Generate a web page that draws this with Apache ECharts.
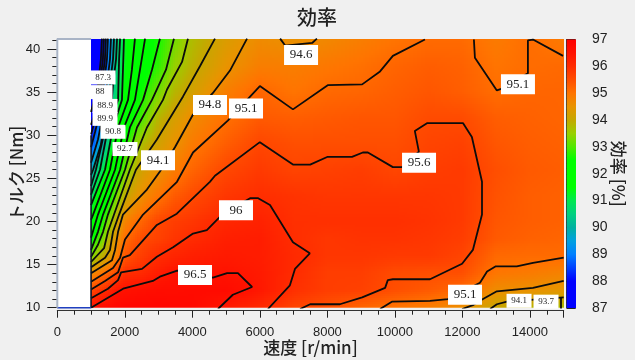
<!DOCTYPE html>
<html><head><meta charset="utf-8">
<style>html,body{margin:0;padding:0;background:#fff}#c{width:635px;height:360px}</style>
<script src="https://cdn.jsdelivr.net/npm/echarts@6/dist/echarts.min.js"></script>
</head><body><div id="c"></div>
<script>
const speeds=[1000,1250,1500,1750,2000,2500,3000,3500,4000,5000,6000,7000,8000,9000,10000,11000,12000,13000,14000,15000];
const torques=[41.16,38,35,32,29,26,23,20,18,16,14,12,10];
const eff41=[87,87,88.9,90.3,91.35,92.1,92.65,93.25,93.75,94.3,94.65,94.55,94.7,94.85,95,95.12,95.13,94.9,95.1,94.9];
const eff38=[87,87.2,89.07,90.45,91.4,92.2,92.8,93.5,93.9,94.5,94.85,94.85,94.95,95.05,95.2,95.3,95.25,95,95.1,95.15];
const eff35=[87,87.85,89.65,90.7,91.6,92.6,93.25,93.85,94.2,94.85,95.2,95,95.15,95.2,95.3,95.4,95.3,95.1,95.2,95.2];
const eff32=[87.55,88.85,90.1,91.25,91.95,92.95,93.85,94.25,94.65,95.05,95.35,95.3,95.35,95.4,95.4,95.55,95.55,95.3,95.25,95.2];
const eff29=[88.45,89.45,90.65,91.85,92.6,93.75,94.2,94.55,94.9,95.3,95.62,95.5,95.5,95.5,95.5,95.65,95.7,95.4,95.3,95.25];
const eff26=[89.75,90.75,91.6,92.35,93.2,94.2,94.55,94.9,95.2,95.6,95.8,95.65,95.7,95.75,95.62,95.75,95.8,95.5,95.35,95.3];
const eff23=[90.75,91.7,92.3,93.2,94,94.6,95,95.35,95.55,95.85,95.98,95.9,95.85,95.85,95.85,95.85,95.8,95.45,95.3,95.25];
const eff20=[91.75,92.4,93.25,94,94.75,95.2,95.6,95.75,95.85,96.1,96.2,95.95,95.95,95.95,95.95,95.9,95.8,95.4,95.3,95.25];
const eff18=[92.4,93,93.8,94.5,95.1,95.55,95.7,95.88,96.02,96.25,96.3,95.98,95.85,95.9,95.9,95.85,95.75,95.35,95.25,95.2];
const eff16=[93.2,93.8,94.2,94.75,95.4,95.75,96,96.15,96.25,96.35,96.3,96.05,95.85,95.85,95.8,95.8,95.65,95.15,95.12,95.12];
const eff14=[94.6,94.9,95.2,95.55,95.98,96.05,96.3,96.5,96.45,96.5,96.35,96.02,95.75,95.75,95.55,95.5,95.5,94.97,94.9,94.78];
const eff12=[95.55,95.85,96.1,96.45,96.52,96.6,96.65,96.65,96.7,96.7,96.4,95.95,95.75,95.7,95.5,95.35,95.12,94.62,94.55,94.45];
const eff10=[96.5,96.7,96.75,96.8,96.85,96.85,96.85,96.8,96.75,96.35,96.05,95.65,95.45,95.2,95,94.85,94.58,94.05,93.85,93.7];
const effRows=[eff41,eff38,eff35,eff32,eff29,eff26,eff23,eff20,eff18,eff16,eff14,eff12,eff10];

const scaleLevels=[87,88,88.5,89,89.5,90,90.5,91,91.5,92.5,93,93.5,94,94.5,95,95.5,96,96.5,97];
const scaleColors=['#0000ff','#0000ff','#0040ff','#0080ff','#00a0e0','#00b0a0','#00d080','#00e850','#00ff00','#00ff00','#50e800','#98d000','#c4a800','#e89400','#ff7400','#ff4e00','#ff2c00','#ff1200','#ff0000'];

const c873=[[1320,41.2],[1290,38.8],[1210,35.9],[1000,32.7]];
const c878=[[1380,41.2],[1350,38.8],[1265,35.9],[1120,32.7],[1000,31.2]];
const c883=[[1440,41.2],[1410,38.8],[1320,35.9],[1180,32.7],[1000,30.1]];
const c889=[[1500,41.2],[1470,38.8],[1380,35.9],[1265,32.7],[1120,30.4],[1000,28.6]];
const c894=[[1590,41.2],[1560,38.8],[1470,35.9],[1350,32.4],[1205,29.5],[1000,26.8]];
const c899=[[1680,41.2],[1650,38.8],[1560,35.9],[1440,32.4],[1290,28.9],[1060,26],[1000,25.4]];
const c904=[[1770,41.2],[1740,38.8],[1650,35.9],[1590,33],[1380,30.1],[1145,26],[1000,24.1]];
const c908=[[1860,41.2],[1830,38.8],[1800,34.1],[1500,30.9],[1265,26],[1000,23.1]];
const c913=[[1975,41.2],[1945,37.6],[1915,34.1],[1650,30.9],[1413,26],[1000,21.9]];
const c918=[[2300,41.2],[2210,37.6],[2095,34.1],[1800,30.9],[1560,26],[1060,20.8],[1000,20.2]];
const c922=[[2600,41.2],[2450,37.6],[2300,34.1],[1975,30.9],[1710,26],[1205,20.8],[1000,18.1]];
const c927=[[3040,41.2],[2805,37.6],[2540,34.1],[2150,30.9],[1860,26],[1355,20.8],[1205,18.8],[1000,16.7]];
const c932=[[3455,41.2],[3220,37.6],[2805,34.1],[2360,30.9],[2005,26],[1500,20.8],[1355,18.8],[1205,17.3],[1000,15.9]];
const c937=[[3870,41.2],[3695,38.5],[3250,35.3],[3130,34.1],[2655,30.9],[2150,26],[1680,20.8],[1500,18.8],[1385,16.9],[1000,15.3]];
const c941=[[4670,41.2],[4225,38],[3725,34.5],[2950,29.5],[2330,26],[1830,20.8],[1650,18.8],[1560,16.7],[1415,15.8],[1000,14.7]];
const c946=[[5620,41.2],[5115,37.5],[4610,34.9],[4020,32.4],[3485,28.6],[3040,25.8],[2655,23.7],[1945,20.8],[1800,18.8],[1710,16.7],[1620,15.5],[1000,14]];
const c951=[[1000,13],[1650,14.6],[1860,15.8],[2005,17.9],[2540,20.8],[3545,24.6],[4020,28],[5050,31.7],[6000,35.7],[6980,33],[8010,35.8],[9030,35.9],[9560,37.4],[9940,39.2],[10890,41.1]];
const c956=[[1000,12.1],[1415,13.1],[1800,14.1],[1945,15.8],[2150,16.1],[2950,19.6],[3540,20.9],[4520,24.6],[4670,25.3],[6000,29.2],[6980,26.6],[7490,26.6],[8010,27.5],[8730,27.5],[9050,28],[9200,28],[9940,26.3],[10210,26.3],[10710,28.1],[10590,30.5],[10950,31.4],[12020,31.4],[12280,29.8],[12580,24.6],[12580,20.8],[12310,16.7],[11990,15.1],[11040,13.3],[9940,13.3],[9790,13.2],[9710,12.3],[9030,11.2],[8370,10.4],[7490,10.4],[7190,9.85]];
const c960=[[1000,11.1],[1500,12.2],[1800,13.2],[1890,14.1],[2510,14.5],[2950,15.9],[3430,17],[4020,18.6],[4430,19],[4910,20.9],[5710,22.7],[5950,22.7],[6300,21.9],[6980,17.6],[7480,16.3],[7040,14.5],[6890,12.6],[6240,9.85]];
const c965=[[1000,10],[1950,12.2],[2830,13.1],[3040,13.6],[3550,14.3],[4610,13.5],[5030,14],[5350,14],[5770,12.4],[5200,11.5],[4760,9.85]];
const c946top=[[6600,41.2],[6750,40.4],[7550,40.7],[7690,41.2]];
const c951right=[[12340,41.1],[12370,39],[13020,35.2],[13170,35.4],[13940,37.2],[13940,41],[14090,41.1],[14980,39.2]];
const c951low=[[9560,9.85],[9910,10.7],[11040,10.8],[11570,11],[12520,12.9],[12730,14.2],[12990,14.8],[13610,14.8],[14090,15.2],[15000,15.8]];
const c946low=[[15000,13.1],[14090,12.3],[13020,11.9],[12610,11],[12310,10.3],[11990,9.85]];
const c941low=[[12820,9.85],[13020,10.4],[13320,10.7],[15000,11.2]];
const c937low=[[14920,11.2],[14920,9.85]];
const contours=[c873,c878,c883,c889,c894,c899,c904,c908,c913,c918,c922,c927,c932,c937,c941,c946,c951,c956,c960,c965,c946top,c951right,c951low,c946low,c941low,c937low];
const edgeLine=[[1000,10],[1000,30]];
const baseLine=[[0,10],[1000,10]];
const frameLine=[[0,10],[0,41.16],[1000,41.16]];

const smallText=['87.3','88','88.9','89.9','90.8','92.7','94.1','93.7'];
const smallSpeed=[1354,1265,1413,1413,1650,2005,13677,14476];
const smallTorque=[36.7,35,33.4,31.9,30.4,28.4,10.8,10.7];
const largeText=['94.1','94.8','95.1','94.6','95.6','95.1','96','96.5','95.1'];
const largeSpeed=[2983,4523,5590,7220,10715,13645,5293,4079,12077];
const largeTorque=[27.1,33.5,33.1,39.3,26.8,35.9,21.3,13.8,11.5];

const xTicks=[0,2000,4000,6000,8000,10000,12000,14000];
const yTicks=[10,15,20,25,30,35,40];
const scaleTicks=[87,88,89,90,91,92,93,94,95,96,97];

function hex(c){return [parseInt(c.slice(1,3),16),parseInt(c.slice(3,5),16),parseInt(c.slice(5,7),16)];}
const rgb=scaleColors.map(hex);
function colorOf(v){
  if(v<=scaleLevels[0])return scaleColors[0];
  for(let i=1;i<scaleLevels.length;i++){
    if(v<=scaleLevels[i]){
      const f=(v-scaleLevels[i-1])/(scaleLevels[i]-scaleLevels[i-1]);
      const a=rgb[i-1],b=rgb[i];
      return 'rgb('+Math.round(a[0]+(b[0]-a[0])*f)+','+Math.round(a[1]+(b[1]-a[1])*f)+','+Math.round(a[2]+(b[2]-a[2])*f)+')';
    }
  }
  return scaleColors[scaleColors.length-1];
}
const cells=[];
for(let r=0;r<torques.length-1;r++)for(let s=0;s<speeds.length-1;s++)cells.push([s,r]);
function renderCell(params,api){
  const s=api.value(0),r=api.value(1);
  const p0=api.coord([speeds[s],torques[r]]),p1=api.coord([speeds[s+1],torques[r+1]]);
  const v00=effRows[r][s],v10=effRows[r][s+1],v01=effRows[r+1][s],v11=effRows[r+1][s+1];
  const w=p1[0]-p0[0],h=p1[1]-p0[1];
  const nx=Math.max(1,Math.round(w/2)),ny=Math.max(1,Math.round(h/2));
  const kids=[];
  for(let i=0;i<nx;i++)for(let j=0;j<ny;j++){
    const fx=(i+.5)/nx,fy=(j+.5)/ny;
    const v=(v00*(1-fx)+v10*fx)*(1-fy)+(v01*(1-fx)+v11*fx)*fy;
    const x0=Math.round(p0[0]+w*i/nx),x1=Math.round(p0[0]+w*(i+1)/nx);
    const y0=Math.round(p0[1]+h*j/ny),y1=Math.round(p0[1]+h*(j+1)/ny);
    kids.push({type:'rect',shape:{x:x0,y:y0,width:x1-x0,height:y1-y0},style:{fill:colorOf(v)}});
  }
  return {type:'group',children:kids};
}
function renderScale(params,api){
  const a=api.coord([0,97]),b=api.coord([1,87]);
  const stops=scaleLevels.map((l,i)=>({offset:(97-l)/10,color:scaleColors[i]})).reverse();
  return {type:'rect',shape:{x:a[0],y:a[1],width:b[0]-a[0],height:b[1]-a[1]},
    style:{fill:new echarts.graphic.LinearGradient(0,0,0,1,stops)}};
}
const txt='#222';
const sans='"Liberation Sans",Arial,sans-serif';
const cjk='"Noto Sans CJK JP","Liberation Sans",sans-serif';
const series=[
 {type:'custom',name:'field',xAxisIndex:0,yAxisIndex:0,data:cells,renderItem:renderCell,silent:true,z:1,encode:{x:0,y:1},clip:true},
 {type:'custom',name:'scale',xAxisIndex:1,yAxisIndex:1,data:[[0]],renderItem:renderScale,silent:true,z:1}
];
contours.forEach(c=>series.push({type:'line',xAxisIndex:0,yAxisIndex:0,data:c,showSymbol:false,silent:true,z:3,clip:true,lineStyle:{color:'#0c0c0c',width:1.8},animation:false}));
series.push({type:'line',xAxisIndex:0,yAxisIndex:0,data:edgeLine,showSymbol:false,z:3,lineStyle:{color:'#101828',width:1.6}});
series.push({type:'line',xAxisIndex:0,yAxisIndex:0,data:baseLine,showSymbol:false,z:3,clip:false,lineStyle:{color:'#2040c0',width:1.5}});
series.push({type:'line',xAxisIndex:0,yAxisIndex:0,data:frameLine,showSymbol:false,z:3,clip:false,lineStyle:{color:'#a9b4c6',width:2}});
function labelSeries(text,xs,ys,w,h,size){
  return {type:'scatter',xAxisIndex:0,yAxisIndex:0,symbolSize:1,itemStyle:{color:'rgba(0,0,0,0)',opacity:1},z:6,zlevel:1,silent:true,
    data:text.map((t,i)=>({value:[xs[i],ys[i]],name:t})),
    label:{show:true,position:'inside',opacity:1,formatter:p=>p.name,width:w,height:h,lineHeight:h,align:'center',verticalAlign:'middle',
      backgroundColor:'#ffffff',color:'#222',fontFamily:'"Liberation Serif",serif',fontSize:size}};
}
series.push(labelSeries(smallText,smallSpeed,smallTorque,25,14,9));
series.push(labelSeries(largeText,largeSpeed,largeTorque,34,20,13));
const plain=v=>String(v);
const chart=echarts.init(document.getElementById('c'),null,{renderer:'canvas'});
chart.setOption({
 animation:false,backgroundColor:'#f0f0f0',
 title:{text:'効率',left:292,top:2,textStyle:{fontFamily:cjk,fontSize:20,fontWeight:500,color:'#222'}},
 grid:[{left:57.3,top:39,width:506.4,height:268.7,show:true,backgroundColor:'#fff',borderWidth:0,outerBoundsMode:'none',containLabel:false},
       {left:566.7,top:39.5,width:9.3,height:268.5,outerBoundsMode:'none',containLabel:false}],
 xAxis:[{type:'value',gridIndex:0,min:0,max:15000,interval:2000,offset:3,position:'bottom',
   name:'速度 [r/min]',nameLocation:'middle',nameMoveOverlap:false,nameGap:28,nameTextStyle:{fontFamily:cjk,fontSize:17,fontWeight:500,color:'#222'},
   splitLine:{show:false},axisLine:{show:true,lineStyle:{color:'#333',width:1}},
   axisTick:{show:true,length:7,customValues:xTicks.concat([15000]),lineStyle:{color:'#222'}},
   minorTick:{show:true,splitNumber:4,length:4,lineStyle:{color:'#222'}},
   axisLabel:{customValues:xTicks,formatter:plain,margin:15,fontFamily:sans,fontSize:13,color:txt}},
  {type:'value',gridIndex:1,min:0,max:1,show:false}],
 yAxis:[{type:'value',gridIndex:0,min:10,max:41.16,interval:5,offset:2,position:'left',
   name:'トルク [Nm]',nameLocation:'middle',nameMoveOverlap:false,nameRotate:90,nameGap:30,nameTextStyle:{fontFamily:cjk,fontSize:17,fontWeight:500,color:'#222'},
   splitLine:{show:false},axisLine:{show:true,lineStyle:{color:'#333',width:1}},
   axisTick:{show:true,length:10,customValues:yTicks,lineStyle:{color:'#222'}},
   minorTick:{show:true,splitNumber:5,length:5,lineStyle:{color:'#222'}},
   axisLabel:{customValues:yTicks,formatter:plain,margin:15,fontFamily:sans,fontSize:13,color:txt}},
  {type:'value',gridIndex:1,min:87,max:97,interval:1,position:'right',offset:3,
   name:'効率 [%]',nameLocation:'middle',nameMoveOverlap:false,nameRotate:-90,nameGap:31,nameTextStyle:{fontFamily:cjk,fontSize:17,fontWeight:500,color:'#222'},
   splitLine:{show:false},axisLine:{show:true,lineStyle:{color:'#333',width:1}},
   axisTick:{show:true,length:9,customValues:scaleTicks,lineStyle:{color:'#222'}},
   minorTick:{show:true,splitNumber:5,length:4,lineStyle:{color:'#222'}},
   axisLabel:{customValues:scaleTicks,formatter:plain,margin:13,fontFamily:sans,fontSize:14,color:txt}}],
 series:series
});
</script></body></html>
